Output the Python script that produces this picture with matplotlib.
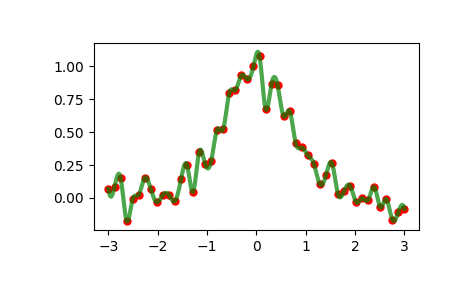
import numpy as np
import matplotlib
matplotlib.use("Agg")
import matplotlib.pyplot as plt

x = np.linspace(-3, 3, 50)
y = np.array([
    0.068, 0.086, 0.154, -0.174, -0.010, 0.023, 0.154, 0.068, -0.033, 0.023,
    0.023, -0.025, 0.141, 0.250, 0.045, 0.348, 0.258, 0.280, 0.520, 0.525,
    0.798, 0.818, 0.932, 0.902, 1.000, 1.078, 0.679, 0.869, 0.856, 0.621,
    0.659, 0.414, 0.384, 0.323, 0.258, 0.103, 0.174, 0.263, 0.028, 0.053,
    0.091, -0.033, -0.003, -0.015, 0.083, -0.071, -0.010, -0.167, -0.106, -0.083,
])


def spline(x, y, xs):
    # cubic interpolating spline, not-a-knot ends
    n = len(x)
    h = x[1] - x[0]
    A = np.zeros((n, n))
    b = np.zeros(n)
    A[0, :3] = [1, -2, 1]
    A[-1, -3:] = [1, -2, 1]
    for i in range(1, n - 1):
        A[i, i - 1:i + 2] = [1, 4, 1]
        b[i] = 6 / h**2 * (y[i - 1] - 2 * y[i] + y[i + 1])
    M = np.linalg.solve(A, b)
    k = np.clip(((xs - x[0]) // h).astype(int), 0, n - 2)
    t0 = x[k + 1] - xs
    t1 = xs - x[k]
    return (M[k] * t0**3 + M[k + 1] * t1**3) / (6 * h) \
        + (y[k] / h - M[k] * h / 6) * t0 + (y[k + 1] / h - M[k + 1] * h / 6) * t1


xs = np.linspace(-3, 3, 1000)

fig = plt.figure(figsize=(4.65, 2.88), dpi=100)
fig.subplots_adjust(left=0.2015, right=0.9017, top=0.8497, bottom=0.2014)
plt.plot(x, y, 'ro', ms=5)
plt.plot(xs, spline(x, y, xs), 'g', lw=3, alpha=0.7)
fig.savefig("out.png", dpi=100)
